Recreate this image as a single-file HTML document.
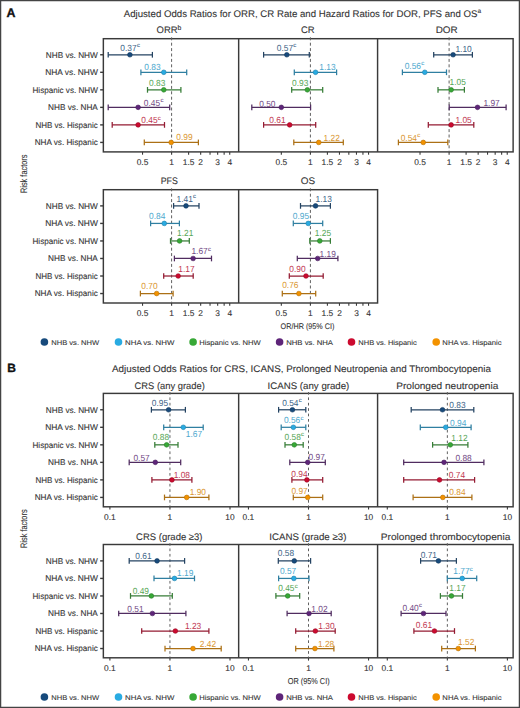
<!DOCTYPE html>
<html><head><meta charset="utf-8"><style>
html,body{margin:0;padding:0;background:#fff;}
svg{display:block;font-family:"Liberation Sans", sans-serif;text-rendering:geometricPrecision;}
</style></head><body>
<svg width="520" height="708" viewBox="0 0 520 708">
<rect width="520" height="708" fill="#fff"/>
<text x="6.60" y="16.90" font-size="12.4" fill="#111" stroke="#111" stroke-width="0.35" font-weight="bold">A</text>
<text x="123.72" y="16.50" font-size="9.6" fill="#333" stroke="#333" stroke-width="0.1" textLength="353.66" lengthAdjust="spacingAndGlyphs">Adjusted Odds Ratios for ORR, CR Rate and Hazard Ratios for DOR, PFS and OS</text>
<text x="477.40" y="12.80" font-size="6.5" fill="#333" stroke="#333" stroke-width="0.1">a</text>
<text x="7.30" y="371.80" font-size="12.0" fill="#111" stroke="#111" stroke-width="0.35" font-weight="bold">B</text>
<text x="112.02" y="371.50" font-size="9.6" fill="#333" stroke="#333" stroke-width="0.1" textLength="378.96" lengthAdjust="spacingAndGlyphs">Adjusted Odds Ratios for CRS, ICANS, Prolonged Neutropenia and Thrombocytopenia</text>
<text x="156.62" y="33.30" font-size="9.5" fill="#333" stroke="#333" stroke-width="0.1" textLength="20.95" lengthAdjust="spacingAndGlyphs">ORR</text>
<text x="177.60" y="29.60" font-size="6.8" fill="#333" stroke="#333" stroke-width="0.1">b</text>
<text x="301.02" y="33.30" font-size="9.5" fill="#333" stroke="#333" stroke-width="0.1" textLength="13.65" lengthAdjust="spacingAndGlyphs">CR</text>
<text x="435.72" y="33.30" font-size="9.5" fill="#333" stroke="#333" stroke-width="0.1" textLength="21.95" lengthAdjust="spacingAndGlyphs">DOR</text>
<text x="160.72" y="184.00" font-size="9.5" fill="#333" stroke="#333" stroke-width="0.1" textLength="17.15" lengthAdjust="spacingAndGlyphs">PFS</text>
<text x="300.72" y="184.00" font-size="9.5" fill="#333" stroke="#333" stroke-width="0.1" textLength="14.35" lengthAdjust="spacingAndGlyphs">OS</text>
<text x="134.53" y="388.50" font-size="9.5" fill="#333" stroke="#333" stroke-width="0.1" textLength="70.25" lengthAdjust="spacingAndGlyphs">CRS (any grade)</text>
<text x="267.62" y="388.50" font-size="9.5" fill="#333" stroke="#333" stroke-width="0.1" textLength="81.75" lengthAdjust="spacingAndGlyphs">ICANS (any grade)</text>
<text x="396.22" y="388.50" font-size="9.5" fill="#333" stroke="#333" stroke-width="0.1" textLength="102.05" lengthAdjust="spacingAndGlyphs">Prolonged neutropenia</text>
<text x="136.12" y="539.50" font-size="9.5" fill="#333" stroke="#333" stroke-width="0.1" textLength="66.35" lengthAdjust="spacingAndGlyphs">CRS (grade ≥3)</text>
<text x="269.22" y="539.50" font-size="9.5" fill="#333" stroke="#333" stroke-width="0.1" textLength="77.15" lengthAdjust="spacingAndGlyphs">ICANS (grade ≥3)</text>
<text x="380.82" y="539.50" font-size="9.5" fill="#333" stroke="#333" stroke-width="0.1" textLength="129.55" lengthAdjust="spacingAndGlyphs">Prolonged thrombocytopenia</text>
<text transform="translate(27.4,173.8) rotate(-90)" text-anchor="middle" font-size="9.4" fill="#333" stroke="#333" stroke-width="0.1" textLength="38.6" lengthAdjust="spacingAndGlyphs">Risk factors</text>
<text transform="translate(27.4,528.7) rotate(-90)" text-anchor="middle" font-size="9.4" fill="#333" stroke="#333" stroke-width="0.1" textLength="38.6" lengthAdjust="spacingAndGlyphs">Risk factors</text>
<text x="280.59" y="328.90" font-size="8.2" fill="#333" stroke="#333" stroke-width="0.1" textLength="53.82" lengthAdjust="spacingAndGlyphs">OR/HR (95% CI)</text>
<text x="287.77" y="684.00" font-size="8.6" fill="#333" stroke="#333" stroke-width="0.1" textLength="41.86" lengthAdjust="spacingAndGlyphs">OR (95% CI)</text>
<rect x="103.35" y="38.7" width="409.77" height="113.20" fill="none" stroke="#3a3a3a" stroke-width="1.45"/>
<line x1="238.66" y1="38.7" x2="238.66" y2="151.9" stroke="#3a3a3a" stroke-width="1.45"/>
<line x1="377.58" y1="38.7" x2="377.58" y2="151.9" stroke="#3a3a3a" stroke-width="1.45"/>
<line x1="100.15" y1="54.77" x2="103.35" y2="54.77" stroke="#3a3a3a" stroke-width="1.4"/>
<text x="97.81" y="57.57" font-size="8.2" fill="#333" stroke="#333" stroke-width="0.1" text-anchor="end" textLength="52.02" lengthAdjust="spacingAndGlyphs">NHB vs. NHW</text>
<line x1="100.15" y1="72.30" x2="103.35" y2="72.30" stroke="#3a3a3a" stroke-width="1.4"/>
<text x="97.81" y="75.10" font-size="8.2" fill="#333" stroke="#333" stroke-width="0.1" text-anchor="end" textLength="52.62" lengthAdjust="spacingAndGlyphs">NHA vs. NHW</text>
<line x1="100.15" y1="89.83" x2="103.35" y2="89.83" stroke="#3a3a3a" stroke-width="1.4"/>
<text x="97.81" y="92.63" font-size="8.2" fill="#333" stroke="#333" stroke-width="0.1" text-anchor="end" textLength="65.32" lengthAdjust="spacingAndGlyphs">Hispanic vs. NHW</text>
<line x1="100.15" y1="107.36" x2="103.35" y2="107.36" stroke="#3a3a3a" stroke-width="1.4"/>
<text x="97.81" y="110.16" font-size="8.2" fill="#333" stroke="#333" stroke-width="0.1" text-anchor="end" textLength="49.72" lengthAdjust="spacingAndGlyphs">NHB vs. NHA</text>
<line x1="100.15" y1="124.89" x2="103.35" y2="124.89" stroke="#3a3a3a" stroke-width="1.4"/>
<text x="97.81" y="127.69" font-size="8.2" fill="#333" stroke="#333" stroke-width="0.1" text-anchor="end" textLength="62.42" lengthAdjust="spacingAndGlyphs">NHB vs. Hispanic</text>
<line x1="100.15" y1="142.42" x2="103.35" y2="142.42" stroke="#3a3a3a" stroke-width="1.4"/>
<text x="97.81" y="145.22" font-size="8.2" fill="#333" stroke="#333" stroke-width="0.1" text-anchor="end" textLength="63.12" lengthAdjust="spacingAndGlyphs">NHA vs. Hispanic</text>
<rect x="103.35" y="189.7" width="274.23" height="113.30" fill="none" stroke="#3a3a3a" stroke-width="1.45"/>
<line x1="238.66" y1="189.7" x2="238.66" y2="303.0" stroke="#3a3a3a" stroke-width="1.45"/>
<line x1="100.15" y1="205.89" x2="103.35" y2="205.89" stroke="#3a3a3a" stroke-width="1.4"/>
<text x="97.81" y="208.69" font-size="8.2" fill="#333" stroke="#333" stroke-width="0.1" text-anchor="end" textLength="52.02" lengthAdjust="spacingAndGlyphs">NHB vs. NHW</text>
<line x1="100.15" y1="223.42" x2="103.35" y2="223.42" stroke="#3a3a3a" stroke-width="1.4"/>
<text x="97.81" y="226.22" font-size="8.2" fill="#333" stroke="#333" stroke-width="0.1" text-anchor="end" textLength="52.62" lengthAdjust="spacingAndGlyphs">NHA vs. NHW</text>
<line x1="100.15" y1="240.95" x2="103.35" y2="240.95" stroke="#3a3a3a" stroke-width="1.4"/>
<text x="97.81" y="243.75" font-size="8.2" fill="#333" stroke="#333" stroke-width="0.1" text-anchor="end" textLength="65.32" lengthAdjust="spacingAndGlyphs">Hispanic vs. NHW</text>
<line x1="100.15" y1="258.48" x2="103.35" y2="258.48" stroke="#3a3a3a" stroke-width="1.4"/>
<text x="97.81" y="261.28" font-size="8.2" fill="#333" stroke="#333" stroke-width="0.1" text-anchor="end" textLength="49.72" lengthAdjust="spacingAndGlyphs">NHB vs. NHA</text>
<line x1="100.15" y1="276.01" x2="103.35" y2="276.01" stroke="#3a3a3a" stroke-width="1.4"/>
<text x="97.81" y="278.81" font-size="8.2" fill="#333" stroke="#333" stroke-width="0.1" text-anchor="end" textLength="62.42" lengthAdjust="spacingAndGlyphs">NHB vs. Hispanic</text>
<line x1="100.15" y1="293.54" x2="103.35" y2="293.54" stroke="#3a3a3a" stroke-width="1.4"/>
<text x="97.81" y="296.34" font-size="8.2" fill="#333" stroke="#333" stroke-width="0.1" text-anchor="end" textLength="63.12" lengthAdjust="spacingAndGlyphs">NHA vs. Hispanic</text>
<rect x="103.35" y="393.4" width="409.77" height="113.40" fill="none" stroke="#3a3a3a" stroke-width="1.45"/>
<line x1="238.66" y1="393.4" x2="238.66" y2="506.8" stroke="#3a3a3a" stroke-width="1.45"/>
<line x1="377.58" y1="393.4" x2="377.58" y2="506.8" stroke="#3a3a3a" stroke-width="1.45"/>
<line x1="100.15" y1="409.77" x2="103.35" y2="409.77" stroke="#3a3a3a" stroke-width="1.4"/>
<text x="97.81" y="412.57" font-size="8.2" fill="#333" stroke="#333" stroke-width="0.1" text-anchor="end" textLength="52.02" lengthAdjust="spacingAndGlyphs">NHB vs. NHW</text>
<line x1="100.15" y1="427.30" x2="103.35" y2="427.30" stroke="#3a3a3a" stroke-width="1.4"/>
<text x="97.81" y="430.10" font-size="8.2" fill="#333" stroke="#333" stroke-width="0.1" text-anchor="end" textLength="52.62" lengthAdjust="spacingAndGlyphs">NHA vs. NHW</text>
<line x1="100.15" y1="444.83" x2="103.35" y2="444.83" stroke="#3a3a3a" stroke-width="1.4"/>
<text x="97.81" y="447.63" font-size="8.2" fill="#333" stroke="#333" stroke-width="0.1" text-anchor="end" textLength="65.32" lengthAdjust="spacingAndGlyphs">Hispanic vs. NHW</text>
<line x1="100.15" y1="462.36" x2="103.35" y2="462.36" stroke="#3a3a3a" stroke-width="1.4"/>
<text x="97.81" y="465.16" font-size="8.2" fill="#333" stroke="#333" stroke-width="0.1" text-anchor="end" textLength="49.72" lengthAdjust="spacingAndGlyphs">NHB vs. NHA</text>
<line x1="100.15" y1="479.89" x2="103.35" y2="479.89" stroke="#3a3a3a" stroke-width="1.4"/>
<text x="97.81" y="482.69" font-size="8.2" fill="#333" stroke="#333" stroke-width="0.1" text-anchor="end" textLength="62.42" lengthAdjust="spacingAndGlyphs">NHB vs. Hispanic</text>
<line x1="100.15" y1="497.42" x2="103.35" y2="497.42" stroke="#3a3a3a" stroke-width="1.4"/>
<text x="97.81" y="500.22" font-size="8.2" fill="#333" stroke="#333" stroke-width="0.1" text-anchor="end" textLength="63.12" lengthAdjust="spacingAndGlyphs">NHA vs. Hispanic</text>
<rect x="103.35" y="544.5" width="409.77" height="113.30" fill="none" stroke="#3a3a3a" stroke-width="1.45"/>
<line x1="238.66" y1="544.5" x2="238.66" y2="657.8" stroke="#3a3a3a" stroke-width="1.45"/>
<line x1="377.58" y1="544.5" x2="377.58" y2="657.8" stroke="#3a3a3a" stroke-width="1.45"/>
<line x1="100.15" y1="560.89" x2="103.35" y2="560.89" stroke="#3a3a3a" stroke-width="1.4"/>
<text x="97.81" y="563.69" font-size="8.2" fill="#333" stroke="#333" stroke-width="0.1" text-anchor="end" textLength="52.02" lengthAdjust="spacingAndGlyphs">NHB vs. NHW</text>
<line x1="100.15" y1="578.42" x2="103.35" y2="578.42" stroke="#3a3a3a" stroke-width="1.4"/>
<text x="97.81" y="581.22" font-size="8.2" fill="#333" stroke="#333" stroke-width="0.1" text-anchor="end" textLength="52.62" lengthAdjust="spacingAndGlyphs">NHA vs. NHW</text>
<line x1="100.15" y1="595.95" x2="103.35" y2="595.95" stroke="#3a3a3a" stroke-width="1.4"/>
<text x="97.81" y="598.75" font-size="8.2" fill="#333" stroke="#333" stroke-width="0.1" text-anchor="end" textLength="65.32" lengthAdjust="spacingAndGlyphs">Hispanic vs. NHW</text>
<line x1="100.15" y1="613.48" x2="103.35" y2="613.48" stroke="#3a3a3a" stroke-width="1.4"/>
<text x="97.81" y="616.28" font-size="8.2" fill="#333" stroke="#333" stroke-width="0.1" text-anchor="end" textLength="49.72" lengthAdjust="spacingAndGlyphs">NHB vs. NHA</text>
<line x1="100.15" y1="631.01" x2="103.35" y2="631.01" stroke="#3a3a3a" stroke-width="1.4"/>
<text x="97.81" y="633.81" font-size="8.2" fill="#333" stroke="#333" stroke-width="0.1" text-anchor="end" textLength="62.42" lengthAdjust="spacingAndGlyphs">NHB vs. Hispanic</text>
<line x1="100.15" y1="648.54" x2="103.35" y2="648.54" stroke="#3a3a3a" stroke-width="1.4"/>
<text x="97.81" y="651.34" font-size="8.2" fill="#333" stroke="#333" stroke-width="0.1" text-anchor="end" textLength="63.12" lengthAdjust="spacingAndGlyphs">NHA vs. Hispanic</text>
<line x1="142.53" y1="151.9" x2="142.53" y2="154.70" stroke="#3a3a3a" stroke-width="1.1"/>
<line x1="171.60" y1="151.9" x2="171.60" y2="154.70" stroke="#3a3a3a" stroke-width="1.1"/>
<line x1="188.60" y1="151.9" x2="188.60" y2="154.70" stroke="#3a3a3a" stroke-width="1.1"/>
<line x1="200.67" y1="151.9" x2="200.67" y2="154.70" stroke="#3a3a3a" stroke-width="1.1"/>
<line x1="210.03" y1="151.9" x2="210.03" y2="154.70" stroke="#3a3a3a" stroke-width="1.1"/>
<line x1="217.67" y1="151.9" x2="217.67" y2="154.70" stroke="#3a3a3a" stroke-width="1.1"/>
<line x1="224.14" y1="151.9" x2="224.14" y2="154.70" stroke="#3a3a3a" stroke-width="1.1"/>
<line x1="229.74" y1="151.9" x2="229.74" y2="154.70" stroke="#3a3a3a" stroke-width="1.1"/>
<text x="142.53" y="165.10" font-size="8.4" fill="#333" stroke="#333" stroke-width="0.1" text-anchor="middle">0.5</text>
<text x="171.60" y="165.10" font-size="8.4" fill="#333" stroke="#333" stroke-width="0.1" text-anchor="middle">1</text>
<text x="188.60" y="165.10" font-size="8.4" fill="#333" stroke="#333" stroke-width="0.1" text-anchor="middle">1.5</text>
<text x="200.67" y="165.10" font-size="8.4" fill="#333" stroke="#333" stroke-width="0.1" text-anchor="middle">2</text>
<text x="217.67" y="165.10" font-size="8.4" fill="#333" stroke="#333" stroke-width="0.1" text-anchor="middle">3</text>
<text x="229.74" y="165.10" font-size="8.4" fill="#333" stroke="#333" stroke-width="0.1" text-anchor="middle">4</text>
<line x1="171.60" y1="37.30" x2="171.60" y2="151.90" stroke="#606060" stroke-width="1.0" stroke-dasharray="3 2.4"/>
<line x1="281.33" y1="151.9" x2="281.33" y2="154.70" stroke="#3a3a3a" stroke-width="1.1"/>
<line x1="310.40" y1="151.9" x2="310.40" y2="154.70" stroke="#3a3a3a" stroke-width="1.1"/>
<line x1="327.40" y1="151.9" x2="327.40" y2="154.70" stroke="#3a3a3a" stroke-width="1.1"/>
<line x1="339.47" y1="151.9" x2="339.47" y2="154.70" stroke="#3a3a3a" stroke-width="1.1"/>
<line x1="348.83" y1="151.9" x2="348.83" y2="154.70" stroke="#3a3a3a" stroke-width="1.1"/>
<line x1="356.47" y1="151.9" x2="356.47" y2="154.70" stroke="#3a3a3a" stroke-width="1.1"/>
<line x1="362.94" y1="151.9" x2="362.94" y2="154.70" stroke="#3a3a3a" stroke-width="1.1"/>
<line x1="368.54" y1="151.9" x2="368.54" y2="154.70" stroke="#3a3a3a" stroke-width="1.1"/>
<text x="281.33" y="165.10" font-size="8.4" fill="#333" stroke="#333" stroke-width="0.1" text-anchor="middle">0.5</text>
<text x="310.40" y="165.10" font-size="8.4" fill="#333" stroke="#333" stroke-width="0.1" text-anchor="middle">1</text>
<text x="327.40" y="165.10" font-size="8.4" fill="#333" stroke="#333" stroke-width="0.1" text-anchor="middle">1.5</text>
<text x="339.47" y="165.10" font-size="8.4" fill="#333" stroke="#333" stroke-width="0.1" text-anchor="middle">2</text>
<text x="356.47" y="165.10" font-size="8.4" fill="#333" stroke="#333" stroke-width="0.1" text-anchor="middle">3</text>
<text x="368.54" y="165.10" font-size="8.4" fill="#333" stroke="#333" stroke-width="0.1" text-anchor="middle">4</text>
<line x1="310.40" y1="37.30" x2="310.40" y2="151.90" stroke="#606060" stroke-width="1.0" stroke-dasharray="3 2.4"/>
<line x1="420.03" y1="151.9" x2="420.03" y2="154.70" stroke="#3a3a3a" stroke-width="1.1"/>
<line x1="449.10" y1="151.9" x2="449.10" y2="154.70" stroke="#3a3a3a" stroke-width="1.1"/>
<line x1="466.10" y1="151.9" x2="466.10" y2="154.70" stroke="#3a3a3a" stroke-width="1.1"/>
<line x1="478.17" y1="151.9" x2="478.17" y2="154.70" stroke="#3a3a3a" stroke-width="1.1"/>
<line x1="487.53" y1="151.9" x2="487.53" y2="154.70" stroke="#3a3a3a" stroke-width="1.1"/>
<line x1="495.17" y1="151.9" x2="495.17" y2="154.70" stroke="#3a3a3a" stroke-width="1.1"/>
<line x1="501.64" y1="151.9" x2="501.64" y2="154.70" stroke="#3a3a3a" stroke-width="1.1"/>
<line x1="507.24" y1="151.9" x2="507.24" y2="154.70" stroke="#3a3a3a" stroke-width="1.1"/>
<text x="420.03" y="165.10" font-size="8.4" fill="#333" stroke="#333" stroke-width="0.1" text-anchor="middle">0.5</text>
<text x="449.10" y="165.10" font-size="8.4" fill="#333" stroke="#333" stroke-width="0.1" text-anchor="middle">1</text>
<text x="466.10" y="165.10" font-size="8.4" fill="#333" stroke="#333" stroke-width="0.1" text-anchor="middle">1.5</text>
<text x="478.17" y="165.10" font-size="8.4" fill="#333" stroke="#333" stroke-width="0.1" text-anchor="middle">2</text>
<text x="495.17" y="165.10" font-size="8.4" fill="#333" stroke="#333" stroke-width="0.1" text-anchor="middle">3</text>
<text x="507.24" y="165.10" font-size="8.4" fill="#333" stroke="#333" stroke-width="0.1" text-anchor="middle">4</text>
<line x1="449.10" y1="37.30" x2="449.10" y2="151.90" stroke="#606060" stroke-width="1.0" stroke-dasharray="3 2.4"/>
<line x1="142.53" y1="303.0" x2="142.53" y2="305.80" stroke="#3a3a3a" stroke-width="1.1"/>
<line x1="171.60" y1="303.0" x2="171.60" y2="305.80" stroke="#3a3a3a" stroke-width="1.1"/>
<line x1="188.60" y1="303.0" x2="188.60" y2="305.80" stroke="#3a3a3a" stroke-width="1.1"/>
<line x1="200.67" y1="303.0" x2="200.67" y2="305.80" stroke="#3a3a3a" stroke-width="1.1"/>
<line x1="210.03" y1="303.0" x2="210.03" y2="305.80" stroke="#3a3a3a" stroke-width="1.1"/>
<line x1="217.67" y1="303.0" x2="217.67" y2="305.80" stroke="#3a3a3a" stroke-width="1.1"/>
<line x1="224.14" y1="303.0" x2="224.14" y2="305.80" stroke="#3a3a3a" stroke-width="1.1"/>
<line x1="229.74" y1="303.0" x2="229.74" y2="305.80" stroke="#3a3a3a" stroke-width="1.1"/>
<text x="142.53" y="316.20" font-size="8.4" fill="#333" stroke="#333" stroke-width="0.1" text-anchor="middle">0.5</text>
<text x="171.60" y="316.20" font-size="8.4" fill="#333" stroke="#333" stroke-width="0.1" text-anchor="middle">1</text>
<text x="188.60" y="316.20" font-size="8.4" fill="#333" stroke="#333" stroke-width="0.1" text-anchor="middle">1.5</text>
<text x="200.67" y="316.20" font-size="8.4" fill="#333" stroke="#333" stroke-width="0.1" text-anchor="middle">2</text>
<text x="217.67" y="316.20" font-size="8.4" fill="#333" stroke="#333" stroke-width="0.1" text-anchor="middle">3</text>
<text x="229.74" y="316.20" font-size="8.4" fill="#333" stroke="#333" stroke-width="0.1" text-anchor="middle">4</text>
<line x1="171.60" y1="188.30" x2="171.60" y2="303.00" stroke="#606060" stroke-width="1.0" stroke-dasharray="3 2.4"/>
<line x1="281.33" y1="303.0" x2="281.33" y2="305.80" stroke="#3a3a3a" stroke-width="1.1"/>
<line x1="310.40" y1="303.0" x2="310.40" y2="305.80" stroke="#3a3a3a" stroke-width="1.1"/>
<line x1="327.40" y1="303.0" x2="327.40" y2="305.80" stroke="#3a3a3a" stroke-width="1.1"/>
<line x1="339.47" y1="303.0" x2="339.47" y2="305.80" stroke="#3a3a3a" stroke-width="1.1"/>
<line x1="348.83" y1="303.0" x2="348.83" y2="305.80" stroke="#3a3a3a" stroke-width="1.1"/>
<line x1="356.47" y1="303.0" x2="356.47" y2="305.80" stroke="#3a3a3a" stroke-width="1.1"/>
<line x1="362.94" y1="303.0" x2="362.94" y2="305.80" stroke="#3a3a3a" stroke-width="1.1"/>
<line x1="368.54" y1="303.0" x2="368.54" y2="305.80" stroke="#3a3a3a" stroke-width="1.1"/>
<text x="281.33" y="316.20" font-size="8.4" fill="#333" stroke="#333" stroke-width="0.1" text-anchor="middle">0.5</text>
<text x="310.40" y="316.20" font-size="8.4" fill="#333" stroke="#333" stroke-width="0.1" text-anchor="middle">1</text>
<text x="327.40" y="316.20" font-size="8.4" fill="#333" stroke="#333" stroke-width="0.1" text-anchor="middle">1.5</text>
<text x="339.47" y="316.20" font-size="8.4" fill="#333" stroke="#333" stroke-width="0.1" text-anchor="middle">2</text>
<text x="356.47" y="316.20" font-size="8.4" fill="#333" stroke="#333" stroke-width="0.1" text-anchor="middle">3</text>
<text x="368.54" y="316.20" font-size="8.4" fill="#333" stroke="#333" stroke-width="0.1" text-anchor="middle">4</text>
<line x1="310.40" y1="188.30" x2="310.40" y2="303.00" stroke="#606060" stroke-width="1.0" stroke-dasharray="3 2.4"/>
<line x1="109.90" y1="506.8" x2="109.90" y2="509.60" stroke="#3a3a3a" stroke-width="1.1"/>
<line x1="169.95" y1="506.8" x2="169.95" y2="509.60" stroke="#3a3a3a" stroke-width="1.1"/>
<line x1="230.00" y1="506.8" x2="230.00" y2="509.60" stroke="#3a3a3a" stroke-width="1.1"/>
<text x="109.90" y="520.00" font-size="8.4" fill="#333" stroke="#333" stroke-width="0.1" text-anchor="middle">0.1</text>
<text x="169.95" y="520.00" font-size="8.4" fill="#333" stroke="#333" stroke-width="0.1" text-anchor="middle">1</text>
<text x="230.00" y="520.00" font-size="8.4" fill="#333" stroke="#333" stroke-width="0.1" text-anchor="middle">10</text>
<line x1="169.95" y1="392.00" x2="169.95" y2="506.80" stroke="#606060" stroke-width="1.0" stroke-dasharray="2.7 2.7"/>
<line x1="248.45" y1="506.8" x2="248.45" y2="509.60" stroke="#3a3a3a" stroke-width="1.1"/>
<line x1="308.50" y1="506.8" x2="308.50" y2="509.60" stroke="#3a3a3a" stroke-width="1.1"/>
<line x1="368.55" y1="506.8" x2="368.55" y2="509.60" stroke="#3a3a3a" stroke-width="1.1"/>
<text x="248.45" y="520.00" font-size="8.4" fill="#333" stroke="#333" stroke-width="0.1" text-anchor="middle">0.1</text>
<text x="308.50" y="520.00" font-size="8.4" fill="#333" stroke="#333" stroke-width="0.1" text-anchor="middle">1</text>
<text x="368.55" y="520.00" font-size="8.4" fill="#333" stroke="#333" stroke-width="0.1" text-anchor="middle">10</text>
<line x1="308.50" y1="392.00" x2="308.50" y2="506.80" stroke="#606060" stroke-width="1.0" stroke-dasharray="2.7 2.7"/>
<line x1="387.30" y1="506.8" x2="387.30" y2="509.60" stroke="#3a3a3a" stroke-width="1.1"/>
<line x1="447.35" y1="506.8" x2="447.35" y2="509.60" stroke="#3a3a3a" stroke-width="1.1"/>
<line x1="507.40" y1="506.8" x2="507.40" y2="509.60" stroke="#3a3a3a" stroke-width="1.1"/>
<text x="387.30" y="520.00" font-size="8.4" fill="#333" stroke="#333" stroke-width="0.1" text-anchor="middle">0.1</text>
<text x="447.35" y="520.00" font-size="8.4" fill="#333" stroke="#333" stroke-width="0.1" text-anchor="middle">1</text>
<text x="507.40" y="520.00" font-size="8.4" fill="#333" stroke="#333" stroke-width="0.1" text-anchor="middle">10</text>
<line x1="447.35" y1="392.00" x2="447.35" y2="506.80" stroke="#606060" stroke-width="1.0" stroke-dasharray="2.7 2.7"/>
<line x1="109.90" y1="657.8" x2="109.90" y2="660.60" stroke="#3a3a3a" stroke-width="1.1"/>
<line x1="169.95" y1="657.8" x2="169.95" y2="660.60" stroke="#3a3a3a" stroke-width="1.1"/>
<line x1="230.00" y1="657.8" x2="230.00" y2="660.60" stroke="#3a3a3a" stroke-width="1.1"/>
<text x="109.90" y="671.00" font-size="8.4" fill="#333" stroke="#333" stroke-width="0.1" text-anchor="middle">0.1</text>
<text x="169.95" y="671.00" font-size="8.4" fill="#333" stroke="#333" stroke-width="0.1" text-anchor="middle">1</text>
<text x="230.00" y="671.00" font-size="8.4" fill="#333" stroke="#333" stroke-width="0.1" text-anchor="middle">10</text>
<line x1="169.95" y1="543.10" x2="169.95" y2="657.80" stroke="#606060" stroke-width="1.0" stroke-dasharray="2.7 2.7"/>
<line x1="248.45" y1="657.8" x2="248.45" y2="660.60" stroke="#3a3a3a" stroke-width="1.1"/>
<line x1="308.50" y1="657.8" x2="308.50" y2="660.60" stroke="#3a3a3a" stroke-width="1.1"/>
<line x1="368.55" y1="657.8" x2="368.55" y2="660.60" stroke="#3a3a3a" stroke-width="1.1"/>
<text x="248.45" y="671.00" font-size="8.4" fill="#333" stroke="#333" stroke-width="0.1" text-anchor="middle">0.1</text>
<text x="308.50" y="671.00" font-size="8.4" fill="#333" stroke="#333" stroke-width="0.1" text-anchor="middle">1</text>
<text x="368.55" y="671.00" font-size="8.4" fill="#333" stroke="#333" stroke-width="0.1" text-anchor="middle">10</text>
<line x1="308.50" y1="543.10" x2="308.50" y2="657.80" stroke="#606060" stroke-width="1.0" stroke-dasharray="2.7 2.7"/>
<line x1="387.30" y1="657.8" x2="387.30" y2="660.60" stroke="#3a3a3a" stroke-width="1.1"/>
<line x1="447.35" y1="657.8" x2="447.35" y2="660.60" stroke="#3a3a3a" stroke-width="1.1"/>
<line x1="507.40" y1="657.8" x2="507.40" y2="660.60" stroke="#3a3a3a" stroke-width="1.1"/>
<text x="387.30" y="671.00" font-size="8.4" fill="#333" stroke="#333" stroke-width="0.1" text-anchor="middle">0.1</text>
<text x="447.35" y="671.00" font-size="8.4" fill="#333" stroke="#333" stroke-width="0.1" text-anchor="middle">1</text>
<text x="507.40" y="671.00" font-size="8.4" fill="#333" stroke="#333" stroke-width="0.1" text-anchor="middle">10</text>
<line x1="447.35" y1="543.10" x2="447.35" y2="657.80" stroke="#606060" stroke-width="1.0" stroke-dasharray="2.7 2.7"/>
<g stroke="#244362" stroke-width="1.25"><line x1="108.2" y1="54.77" x2="152.4" y2="54.77"/><line x1="108.2" y1="51.92" x2="108.2" y2="57.62"/><line x1="152.4" y1="51.92" x2="152.4" y2="57.62"/></g>
<circle cx="129.90" cy="54.77" r="2.35" fill="#174a7c" stroke="#11385d" stroke-width="0.6"/>
<text x="120.36" y="50.50" font-size="8.9" fill="#406487" textLength="16.29" lengthAdjust="spacingAndGlyphs">0.37</text>
<text x="136.90" y="47.10" font-size="6" fill="#406487" stroke="#406487" stroke-width="0.1">c</text>
<g stroke="#2f7fa1" stroke-width="1.25"><line x1="140.9" y1="72.30" x2="186.7" y2="72.30"/><line x1="140.9" y1="69.45" x2="140.9" y2="75.15"/><line x1="186.7" y1="69.45" x2="186.7" y2="75.15"/></g>
<circle cx="163.79" cy="72.30" r="2.35" fill="#29abe2" stroke="#1f80aa" stroke-width="0.6"/>
<text x="144.36" y="70.20" font-size="8.9" fill="#4da8ce" textLength="16.29" lengthAdjust="spacingAndGlyphs">0.83</text>
<g stroke="#377d37" stroke-width="1.25"><line x1="147.5" y1="89.83" x2="180.9" y2="89.83"/><line x1="147.5" y1="86.98" x2="147.5" y2="92.68"/><line x1="180.9" y1="86.98" x2="180.9" y2="92.68"/></g>
<circle cx="163.79" cy="89.83" r="2.35" fill="#37a836" stroke="#297e28" stroke-width="0.6"/>
<text x="149.06" y="85.60" font-size="8.9" fill="#56a656" textLength="16.29" lengthAdjust="spacingAndGlyphs">0.83</text>
<g stroke="#502c60" stroke-width="1.25"><line x1="108.2" y1="107.36" x2="169.7" y2="107.36"/><line x1="108.2" y1="104.51" x2="108.2" y2="110.21"/><line x1="169.7" y1="104.51" x2="169.7" y2="110.21"/></g>
<circle cx="138.11" cy="107.36" r="2.35" fill="#5e2579" stroke="#461c5b" stroke-width="0.6"/>
<text x="143.86" y="105.60" font-size="8.9" fill="#724a85" textLength="16.29" lengthAdjust="spacingAndGlyphs">0.45</text>
<text x="160.40" y="102.20" font-size="6" fill="#724a85" stroke="#724a85" stroke-width="0.1">c</text>
<g stroke="#941b32" stroke-width="1.25"><line x1="112.2" y1="124.89" x2="164.5" y2="124.89"/><line x1="112.2" y1="122.04" x2="112.2" y2="127.74"/><line x1="164.5" y1="122.04" x2="164.5" y2="127.74"/></g>
<circle cx="138.11" cy="124.89" r="2.35" fill="#cc0a2f" stroke="#990823" stroke-width="0.6"/>
<text x="141.25" y="122.90" font-size="8.9" fill="#bf3751" textLength="16.29" lengthAdjust="spacingAndGlyphs">0.45</text>
<text x="157.80" y="119.50" font-size="6" fill="#bf3751" stroke="#bf3751" stroke-width="0.1">c</text>
<g stroke="#ac7015" stroke-width="1.25"><line x1="144.3" y1="142.42" x2="198.4" y2="142.42"/><line x1="144.3" y1="139.57" x2="144.3" y2="145.27"/><line x1="198.4" y1="139.57" x2="198.4" y2="145.27"/></g>
<circle cx="171.18" cy="142.42" r="2.35" fill="#f39200" stroke="#b66e00" stroke-width="0.6"/>
<text x="176.25" y="140.40" font-size="8.9" fill="#da9630" textLength="16.29" lengthAdjust="spacingAndGlyphs">0.99</text>
<g stroke="#244362" stroke-width="1.25"><line x1="263.6" y1="54.77" x2="309.3" y2="54.77"/><line x1="263.6" y1="51.92" x2="263.6" y2="57.62"/><line x1="309.3" y1="51.92" x2="309.3" y2="57.62"/></g>
<circle cx="286.83" cy="54.77" r="2.35" fill="#174a7c" stroke="#11385d" stroke-width="0.6"/>
<text x="276.75" y="50.60" font-size="8.9" fill="#406487" textLength="16.29" lengthAdjust="spacingAndGlyphs">0.57</text>
<text x="293.30" y="47.20" font-size="6" fill="#406487" stroke="#406487" stroke-width="0.1">c</text>
<g stroke="#2f7fa1" stroke-width="1.25"><line x1="294.3" y1="72.30" x2="336.6" y2="72.30"/><line x1="294.3" y1="69.45" x2="294.3" y2="75.15"/><line x1="336.6" y1="69.45" x2="336.6" y2="75.15"/></g>
<circle cx="315.53" cy="72.30" r="2.35" fill="#29abe2" stroke="#1f80aa" stroke-width="0.6"/>
<text x="319.25" y="70.10" font-size="8.9" fill="#4da8ce" textLength="16.29" lengthAdjust="spacingAndGlyphs">1.13</text>
<g stroke="#377d37" stroke-width="1.25"><line x1="291.7" y1="89.83" x2="322.7" y2="89.83"/><line x1="291.7" y1="86.98" x2="291.7" y2="92.68"/><line x1="322.7" y1="86.98" x2="322.7" y2="92.68"/></g>
<circle cx="307.36" cy="89.83" r="2.35" fill="#37a836" stroke="#297e28" stroke-width="0.6"/>
<text x="292.06" y="86.10" font-size="8.9" fill="#56a656" textLength="16.29" lengthAdjust="spacingAndGlyphs">0.93</text>
<g stroke="#502c60" stroke-width="1.25"><line x1="251.8" y1="107.36" x2="310.6" y2="107.36"/><line x1="251.8" y1="104.51" x2="251.8" y2="110.21"/><line x1="310.6" y1="104.51" x2="310.6" y2="110.21"/></g>
<circle cx="281.33" cy="107.36" r="2.35" fill="#5e2579" stroke="#461c5b" stroke-width="0.6"/>
<text x="259.16" y="106.70" font-size="8.9" fill="#724a85" textLength="16.29" lengthAdjust="spacingAndGlyphs">0.50</text>
<g stroke="#941b32" stroke-width="1.25"><line x1="263.6" y1="124.89" x2="315.7" y2="124.89"/><line x1="263.6" y1="122.04" x2="263.6" y2="127.74"/><line x1="315.7" y1="122.04" x2="315.7" y2="127.74"/></g>
<circle cx="289.67" cy="124.89" r="2.35" fill="#cc0a2f" stroke="#990823" stroke-width="0.6"/>
<text x="269.25" y="123.30" font-size="8.9" fill="#bf3751" textLength="16.29" lengthAdjust="spacingAndGlyphs">0.61</text>
<g stroke="#ac7015" stroke-width="1.25"><line x1="293.8" y1="142.42" x2="343.3" y2="142.42"/><line x1="293.8" y1="139.57" x2="293.8" y2="145.27"/><line x1="343.3" y1="139.57" x2="343.3" y2="145.27"/></g>
<circle cx="318.74" cy="142.42" r="2.35" fill="#f39200" stroke="#b66e00" stroke-width="0.6"/>
<text x="323.56" y="140.60" font-size="8.9" fill="#da9630" textLength="16.29" lengthAdjust="spacingAndGlyphs">1.22</text>
<g stroke="#244362" stroke-width="1.25"><line x1="433.7" y1="54.77" x2="472.4" y2="54.77"/><line x1="433.7" y1="51.92" x2="433.7" y2="57.62"/><line x1="472.4" y1="51.92" x2="472.4" y2="57.62"/></g>
<circle cx="453.10" cy="54.77" r="2.35" fill="#174a7c" stroke="#11385d" stroke-width="0.6"/>
<text x="455.45" y="51.90" font-size="8.9" fill="#406487" textLength="16.29" lengthAdjust="spacingAndGlyphs">1.10</text>
<g stroke="#2f7fa1" stroke-width="1.25"><line x1="402.4" y1="72.30" x2="446.5" y2="72.30"/><line x1="402.4" y1="69.45" x2="402.4" y2="75.15"/><line x1="446.5" y1="69.45" x2="446.5" y2="75.15"/></g>
<circle cx="424.78" cy="72.30" r="2.35" fill="#29abe2" stroke="#1f80aa" stroke-width="0.6"/>
<text x="404.66" y="68.70" font-size="8.9" fill="#4da8ce" textLength="16.29" lengthAdjust="spacingAndGlyphs">0.56</text>
<text x="421.20" y="65.30" font-size="6" fill="#4da8ce" stroke="#4da8ce" stroke-width="0.1">c</text>
<g stroke="#377d37" stroke-width="1.25"><line x1="438" y1="89.83" x2="464.4" y2="89.83"/><line x1="438" y1="86.98" x2="438" y2="92.68"/><line x1="464.4" y1="86.98" x2="464.4" y2="92.68"/></g>
<circle cx="451.15" cy="89.83" r="2.35" fill="#37a836" stroke="#297e28" stroke-width="0.6"/>
<text x="449.56" y="85.30" font-size="8.9" fill="#56a656" textLength="16.29" lengthAdjust="spacingAndGlyphs">1.05</text>
<g stroke="#502c60" stroke-width="1.25"><line x1="449.2" y1="107.36" x2="506.1" y2="107.36"/><line x1="449.2" y1="104.51" x2="449.2" y2="110.21"/><line x1="506.1" y1="104.51" x2="506.1" y2="110.21"/></g>
<circle cx="477.54" cy="107.36" r="2.35" fill="#5e2579" stroke="#461c5b" stroke-width="0.6"/>
<text x="483.45" y="106.20" font-size="8.9" fill="#724a85" textLength="16.29" lengthAdjust="spacingAndGlyphs">1.97</text>
<g stroke="#941b32" stroke-width="1.25"><line x1="428.3" y1="124.89" x2="473.8" y2="124.89"/><line x1="428.3" y1="122.04" x2="428.3" y2="127.74"/><line x1="473.8" y1="122.04" x2="473.8" y2="127.74"/></g>
<circle cx="451.15" cy="124.89" r="2.35" fill="#cc0a2f" stroke="#990823" stroke-width="0.6"/>
<text x="455.45" y="123.30" font-size="8.9" fill="#bf3751" textLength="16.29" lengthAdjust="spacingAndGlyphs">1.05</text>
<g stroke="#ac7015" stroke-width="1.25"><line x1="398.4" y1="142.42" x2="447.8" y2="142.42"/><line x1="398.4" y1="139.57" x2="398.4" y2="145.27"/><line x1="447.8" y1="139.57" x2="447.8" y2="145.27"/></g>
<circle cx="423.26" cy="142.42" r="2.35" fill="#f39200" stroke="#b66e00" stroke-width="0.6"/>
<text x="400.66" y="140.60" font-size="8.9" fill="#da9630" textLength="16.29" lengthAdjust="spacingAndGlyphs">0.54</text>
<text x="417.20" y="137.20" font-size="6" fill="#da9630" stroke="#da9630" stroke-width="0.1">c</text>
<g stroke="#244362" stroke-width="1.25"><line x1="173.6" y1="205.89" x2="199" y2="205.89"/><line x1="173.6" y1="203.04" x2="173.6" y2="208.74"/><line x1="199" y1="203.04" x2="199" y2="208.74"/></g>
<circle cx="186.01" cy="205.89" r="2.35" fill="#174a7c" stroke="#11385d" stroke-width="0.6"/>
<text x="176.56" y="201.60" font-size="8.9" fill="#406487" textLength="16.29" lengthAdjust="spacingAndGlyphs">1.41</text>
<text x="193.10" y="198.20" font-size="6" fill="#406487" stroke="#406487" stroke-width="0.1">c</text>
<g stroke="#2f7fa1" stroke-width="1.25"><line x1="150.6" y1="223.42" x2="179.4" y2="223.42"/><line x1="150.6" y1="220.57" x2="150.6" y2="226.27"/><line x1="179.4" y1="220.57" x2="179.4" y2="226.27"/></g>
<circle cx="164.29" cy="223.42" r="2.35" fill="#29abe2" stroke="#1f80aa" stroke-width="0.6"/>
<text x="149.06" y="219.10" font-size="8.9" fill="#4da8ce" textLength="16.29" lengthAdjust="spacingAndGlyphs">0.84</text>
<g stroke="#377d37" stroke-width="1.25"><line x1="170.5" y1="240.95" x2="189.3" y2="240.95"/><line x1="170.5" y1="238.10" x2="170.5" y2="243.80"/><line x1="189.3" y1="238.10" x2="189.3" y2="243.80"/></g>
<circle cx="179.59" cy="240.95" r="2.35" fill="#37a836" stroke="#297e28" stroke-width="0.6"/>
<text x="177.06" y="235.50" font-size="8.9" fill="#56a656" textLength="16.29" lengthAdjust="spacingAndGlyphs">1.21</text>
<g stroke="#502c60" stroke-width="1.25"><line x1="174.4" y1="258.48" x2="211.5" y2="258.48"/><line x1="174.4" y1="255.63" x2="174.4" y2="261.33"/><line x1="211.5" y1="255.63" x2="211.5" y2="261.33"/></g>
<circle cx="193.11" cy="258.48" r="2.35" fill="#5e2579" stroke="#461c5b" stroke-width="0.6"/>
<text x="191.46" y="254.20" font-size="8.9" fill="#724a85" textLength="16.29" lengthAdjust="spacingAndGlyphs">1.67</text>
<text x="208.00" y="250.80" font-size="6" fill="#724a85" stroke="#724a85" stroke-width="0.1">c</text>
<g stroke="#941b32" stroke-width="1.25"><line x1="163.7" y1="276.01" x2="193.2" y2="276.01"/><line x1="163.7" y1="273.16" x2="163.7" y2="278.86"/><line x1="193.2" y1="273.16" x2="193.2" y2="278.86"/></g>
<circle cx="178.18" cy="276.01" r="2.35" fill="#cc0a2f" stroke="#990823" stroke-width="0.6"/>
<text x="178.36" y="271.80" font-size="8.9" fill="#bf3751" textLength="16.29" lengthAdjust="spacingAndGlyphs">1.17</text>
<g stroke="#ac7015" stroke-width="1.25"><line x1="140.4" y1="293.54" x2="173.1" y2="293.54"/><line x1="140.4" y1="290.69" x2="140.4" y2="296.39"/><line x1="173.1" y1="290.69" x2="173.1" y2="296.39"/></g>
<circle cx="156.64" cy="293.54" r="2.35" fill="#f39200" stroke="#b66e00" stroke-width="0.6"/>
<text x="141.25" y="288.80" font-size="8.9" fill="#da9630" textLength="16.29" lengthAdjust="spacingAndGlyphs">0.70</text>
<g stroke="#244362" stroke-width="1.25"><line x1="300.5" y1="205.89" x2="330.4" y2="205.89"/><line x1="300.5" y1="203.04" x2="300.5" y2="208.74"/><line x1="330.4" y1="203.04" x2="330.4" y2="208.74"/></g>
<circle cx="315.53" cy="205.89" r="2.35" fill="#174a7c" stroke="#11385d" stroke-width="0.6"/>
<text x="315.56" y="201.60" font-size="8.9" fill="#406487" textLength="16.29" lengthAdjust="spacingAndGlyphs">1.13</text>
<g stroke="#2f7fa1" stroke-width="1.25"><line x1="293.3" y1="223.42" x2="322.7" y2="223.42"/><line x1="293.3" y1="220.57" x2="293.3" y2="226.27"/><line x1="322.7" y1="220.57" x2="322.7" y2="226.27"/></g>
<circle cx="308.25" cy="223.42" r="2.35" fill="#29abe2" stroke="#1f80aa" stroke-width="0.6"/>
<text x="292.86" y="219.20" font-size="8.9" fill="#4da8ce" textLength="16.29" lengthAdjust="spacingAndGlyphs">0.95</text>
<g stroke="#377d37" stroke-width="1.25"><line x1="309.8" y1="240.95" x2="330.4" y2="240.95"/><line x1="309.8" y1="238.10" x2="309.8" y2="243.80"/><line x1="330.4" y1="238.10" x2="330.4" y2="243.80"/></g>
<circle cx="319.76" cy="240.95" r="2.35" fill="#37a836" stroke="#297e28" stroke-width="0.6"/>
<text x="314.75" y="236.30" font-size="8.9" fill="#56a656" textLength="16.29" lengthAdjust="spacingAndGlyphs">1.25</text>
<g stroke="#502c60" stroke-width="1.25"><line x1="297.3" y1="258.48" x2="337.9" y2="258.48"/><line x1="297.3" y1="255.63" x2="297.3" y2="261.33"/><line x1="337.9" y1="255.63" x2="337.9" y2="261.33"/></g>
<circle cx="317.70" cy="258.48" r="2.35" fill="#5e2579" stroke="#461c5b" stroke-width="0.6"/>
<text x="319.56" y="257.20" font-size="8.9" fill="#724a85" textLength="16.29" lengthAdjust="spacingAndGlyphs">1.19</text>
<g stroke="#941b32" stroke-width="1.25"><line x1="289.3" y1="276.01" x2="323.2" y2="276.01"/><line x1="289.3" y1="273.16" x2="289.3" y2="278.86"/><line x1="323.2" y1="273.16" x2="323.2" y2="278.86"/></g>
<circle cx="305.98" cy="276.01" r="2.35" fill="#cc0a2f" stroke="#990823" stroke-width="0.6"/>
<text x="289.36" y="271.90" font-size="8.9" fill="#bf3751" textLength="16.29" lengthAdjust="spacingAndGlyphs">0.90</text>
<g stroke="#ac7015" stroke-width="1.25"><line x1="282.3" y1="293.54" x2="315.7" y2="293.54"/><line x1="282.3" y1="290.69" x2="282.3" y2="296.39"/><line x1="315.7" y1="290.69" x2="315.7" y2="296.39"/></g>
<circle cx="298.89" cy="293.54" r="2.35" fill="#f39200" stroke="#b66e00" stroke-width="0.6"/>
<text x="282.16" y="288.40" font-size="8.9" fill="#da9630" textLength="16.29" lengthAdjust="spacingAndGlyphs">0.76</text>
<g stroke="#244362" stroke-width="1.25"><line x1="151.4" y1="409.77" x2="185.4" y2="409.77"/><line x1="151.4" y1="406.92" x2="151.4" y2="412.62"/><line x1="185.4" y1="406.92" x2="185.4" y2="412.62"/></g>
<circle cx="168.61" cy="409.77" r="2.35" fill="#174a7c" stroke="#11385d" stroke-width="0.6"/>
<text x="151.75" y="406.10" font-size="8.9" fill="#406487" textLength="16.29" lengthAdjust="spacingAndGlyphs">0.95</text>
<g stroke="#2f7fa1" stroke-width="1.25"><line x1="163.7" y1="427.30" x2="203.2" y2="427.30"/><line x1="163.7" y1="424.45" x2="163.7" y2="430.15"/><line x1="203.2" y1="424.45" x2="203.2" y2="430.15"/></g>
<circle cx="183.32" cy="427.30" r="2.35" fill="#29abe2" stroke="#1f80aa" stroke-width="0.6"/>
<text x="185.75" y="436.90" font-size="8.9" fill="#4da8ce" textLength="16.29" lengthAdjust="spacingAndGlyphs">1.67</text>
<g stroke="#377d37" stroke-width="1.25"><line x1="154.8" y1="444.83" x2="178" y2="444.83"/><line x1="154.8" y1="441.98" x2="154.8" y2="447.68"/><line x1="178" y1="441.98" x2="178" y2="447.68"/></g>
<circle cx="166.62" cy="444.83" r="2.35" fill="#37a836" stroke="#297e28" stroke-width="0.6"/>
<text x="152.75" y="439.50" font-size="8.9" fill="#56a656" textLength="16.29" lengthAdjust="spacingAndGlyphs">0.88</text>
<g stroke="#502c60" stroke-width="1.25"><line x1="129.2" y1="462.36" x2="180.7" y2="462.36"/><line x1="129.2" y1="459.51" x2="129.2" y2="465.21"/><line x1="180.7" y1="459.51" x2="180.7" y2="465.21"/></g>
<circle cx="155.29" cy="462.36" r="2.35" fill="#5e2579" stroke="#461c5b" stroke-width="0.6"/>
<text x="133.46" y="460.90" font-size="8.9" fill="#724a85" textLength="16.29" lengthAdjust="spacingAndGlyphs">0.57</text>
<g stroke="#941b32" stroke-width="1.25"><line x1="151.9" y1="479.89" x2="191.9" y2="479.89"/><line x1="151.9" y1="477.04" x2="151.9" y2="482.74"/><line x1="191.9" y1="477.04" x2="191.9" y2="482.74"/></g>
<circle cx="171.96" cy="479.89" r="2.35" fill="#cc0a2f" stroke="#990823" stroke-width="0.6"/>
<text x="173.66" y="477.90" font-size="8.9" fill="#bf3751" textLength="16.29" lengthAdjust="spacingAndGlyphs">1.08</text>
<g stroke="#ac7015" stroke-width="1.25"><line x1="164.5" y1="497.42" x2="208.9" y2="497.42"/><line x1="164.5" y1="494.57" x2="164.5" y2="500.27"/><line x1="208.9" y1="494.57" x2="208.9" y2="500.27"/></g>
<circle cx="186.69" cy="497.42" r="2.35" fill="#f39200" stroke="#b66e00" stroke-width="0.6"/>
<text x="189.66" y="495.40" font-size="8.9" fill="#da9630" textLength="16.29" lengthAdjust="spacingAndGlyphs">1.90</text>
<g stroke="#244362" stroke-width="1.25"><line x1="278.6" y1="409.77" x2="305.8" y2="409.77"/><line x1="278.6" y1="406.92" x2="278.6" y2="412.62"/><line x1="305.8" y1="406.92" x2="305.8" y2="412.62"/></g>
<circle cx="292.43" cy="409.77" r="2.35" fill="#174a7c" stroke="#11385d" stroke-width="0.6"/>
<text x="282.16" y="405.60" font-size="8.9" fill="#406487" textLength="16.29" lengthAdjust="spacingAndGlyphs">0.54</text>
<text x="298.70" y="402.20" font-size="6" fill="#406487" stroke="#406487" stroke-width="0.1">c</text>
<g stroke="#2f7fa1" stroke-width="1.25"><line x1="281.2" y1="427.30" x2="305.8" y2="427.30"/><line x1="281.2" y1="424.45" x2="281.2" y2="430.15"/><line x1="305.8" y1="424.45" x2="305.8" y2="430.15"/></g>
<circle cx="293.38" cy="427.30" r="2.35" fill="#29abe2" stroke="#1f80aa" stroke-width="0.6"/>
<text x="283.95" y="423.20" font-size="8.9" fill="#4da8ce" textLength="16.29" lengthAdjust="spacingAndGlyphs">0.56</text>
<text x="300.50" y="419.80" font-size="6" fill="#4da8ce" stroke="#4da8ce" stroke-width="0.1">c</text>
<g stroke="#377d37" stroke-width="1.25"><line x1="285" y1="444.83" x2="303.2" y2="444.83"/><line x1="285" y1="441.98" x2="285" y2="447.68"/><line x1="303.2" y1="441.98" x2="303.2" y2="447.68"/></g>
<circle cx="294.29" cy="444.83" r="2.35" fill="#37a836" stroke="#297e28" stroke-width="0.6"/>
<text x="284.56" y="439.80" font-size="8.9" fill="#56a656" textLength="16.29" lengthAdjust="spacingAndGlyphs">0.58</text>
<text x="301.10" y="436.40" font-size="6" fill="#56a656" stroke="#56a656" stroke-width="0.1">c</text>
<g stroke="#502c60" stroke-width="1.25"><line x1="289.8" y1="462.36" x2="325.3" y2="462.36"/><line x1="289.8" y1="459.51" x2="289.8" y2="465.21"/><line x1="325.3" y1="459.51" x2="325.3" y2="465.21"/></g>
<circle cx="307.71" cy="462.36" r="2.35" fill="#5e2579" stroke="#461c5b" stroke-width="0.6"/>
<text x="308.56" y="459.60" font-size="8.9" fill="#724a85" textLength="16.29" lengthAdjust="spacingAndGlyphs">0.97</text>
<g stroke="#941b32" stroke-width="1.25"><line x1="291.9" y1="479.89" x2="322.7" y2="479.89"/><line x1="291.9" y1="477.04" x2="291.9" y2="482.74"/><line x1="322.7" y1="477.04" x2="322.7" y2="482.74"/></g>
<circle cx="306.89" cy="479.89" r="2.35" fill="#cc0a2f" stroke="#990823" stroke-width="0.6"/>
<text x="291.25" y="476.90" font-size="8.9" fill="#bf3751" textLength="16.29" lengthAdjust="spacingAndGlyphs">0.94</text>
<g stroke="#ac7015" stroke-width="1.25"><line x1="293.3" y1="497.42" x2="322.7" y2="497.42"/><line x1="293.3" y1="494.57" x2="293.3" y2="500.27"/><line x1="322.7" y1="494.57" x2="322.7" y2="500.27"/></g>
<circle cx="307.71" cy="497.42" r="2.35" fill="#f39200" stroke="#b66e00" stroke-width="0.6"/>
<text x="291.45" y="493.80" font-size="8.9" fill="#da9630" textLength="16.29" lengthAdjust="spacingAndGlyphs">0.97</text>
<g stroke="#244362" stroke-width="1.25"><line x1="411.2" y1="409.77" x2="473.8" y2="409.77"/><line x1="411.2" y1="406.92" x2="411.2" y2="412.62"/><line x1="473.8" y1="406.92" x2="473.8" y2="412.62"/></g>
<circle cx="442.49" cy="409.77" r="2.35" fill="#174a7c" stroke="#11385d" stroke-width="0.6"/>
<text x="449.25" y="408.20" font-size="8.9" fill="#406487" textLength="16.29" lengthAdjust="spacingAndGlyphs">0.83</text>
<g stroke="#2f7fa1" stroke-width="1.25"><line x1="420.3" y1="427.30" x2="471.1" y2="427.30"/><line x1="420.3" y1="424.45" x2="420.3" y2="430.15"/><line x1="471.1" y1="424.45" x2="471.1" y2="430.15"/></g>
<circle cx="445.74" cy="427.30" r="2.35" fill="#29abe2" stroke="#1f80aa" stroke-width="0.6"/>
<text x="450.06" y="425.60" font-size="8.9" fill="#4da8ce" textLength="16.29" lengthAdjust="spacingAndGlyphs">0.94</text>
<g stroke="#377d37" stroke-width="1.25"><line x1="432.6" y1="444.83" x2="467.9" y2="444.83"/><line x1="432.6" y1="441.98" x2="432.6" y2="447.68"/><line x1="467.9" y1="441.98" x2="467.9" y2="447.68"/></g>
<circle cx="450.31" cy="444.83" r="2.35" fill="#37a836" stroke="#297e28" stroke-width="0.6"/>
<text x="451.36" y="441.10" font-size="8.9" fill="#56a656" textLength="16.29" lengthAdjust="spacingAndGlyphs">1.12</text>
<g stroke="#502c60" stroke-width="1.25"><line x1="403.7" y1="462.36" x2="483.9" y2="462.36"/><line x1="403.7" y1="459.51" x2="403.7" y2="465.21"/><line x1="483.9" y1="459.51" x2="483.9" y2="465.21"/></g>
<circle cx="444.02" cy="462.36" r="2.35" fill="#5e2579" stroke="#461c5b" stroke-width="0.6"/>
<text x="455.45" y="461.20" font-size="8.9" fill="#724a85" textLength="16.29" lengthAdjust="spacingAndGlyphs">0.88</text>
<g stroke="#941b32" stroke-width="1.25"><line x1="403.7" y1="479.89" x2="474.6" y2="479.89"/><line x1="403.7" y1="477.04" x2="403.7" y2="482.74"/><line x1="474.6" y1="477.04" x2="474.6" y2="482.74"/></g>
<circle cx="439.50" cy="479.89" r="2.35" fill="#cc0a2f" stroke="#990823" stroke-width="0.6"/>
<text x="448.75" y="478.30" font-size="8.9" fill="#bf3751" textLength="16.29" lengthAdjust="spacingAndGlyphs">0.74</text>
<g stroke="#ac7015" stroke-width="1.25"><line x1="413.1" y1="497.42" x2="471.9" y2="497.42"/><line x1="413.1" y1="494.57" x2="413.1" y2="500.27"/><line x1="471.9" y1="494.57" x2="471.9" y2="500.27"/></g>
<circle cx="442.80" cy="497.42" r="2.35" fill="#f39200" stroke="#b66e00" stroke-width="0.6"/>
<text x="449.25" y="495.10" font-size="8.9" fill="#da9630" textLength="16.29" lengthAdjust="spacingAndGlyphs">0.84</text>
<g stroke="#244362" stroke-width="1.25"><line x1="129.2" y1="560.89" x2="184.6" y2="560.89"/><line x1="129.2" y1="558.04" x2="129.2" y2="563.74"/><line x1="184.6" y1="558.04" x2="184.6" y2="563.74"/></g>
<circle cx="157.06" cy="560.89" r="2.35" fill="#174a7c" stroke="#11385d" stroke-width="0.6"/>
<text x="135.25" y="558.90" font-size="8.9" fill="#406487" textLength="16.29" lengthAdjust="spacingAndGlyphs">0.61</text>
<g stroke="#2f7fa1" stroke-width="1.25"><line x1="154" y1="578.42" x2="194.5" y2="578.42"/><line x1="154" y1="575.57" x2="154" y2="581.27"/><line x1="194.5" y1="575.57" x2="194.5" y2="581.27"/></g>
<circle cx="174.49" cy="578.42" r="2.35" fill="#29abe2" stroke="#1f80aa" stroke-width="0.6"/>
<text x="177.06" y="575.90" font-size="8.9" fill="#4da8ce" textLength="16.29" lengthAdjust="spacingAndGlyphs">1.19</text>
<g stroke="#377d37" stroke-width="1.25"><line x1="130.5" y1="595.95" x2="172.3" y2="595.95"/><line x1="130.5" y1="593.10" x2="130.5" y2="598.80"/><line x1="172.3" y1="593.10" x2="172.3" y2="598.80"/></g>
<circle cx="151.35" cy="595.95" r="2.35" fill="#37a836" stroke="#297e28" stroke-width="0.6"/>
<text x="132.66" y="593.70" font-size="8.9" fill="#56a656" textLength="16.29" lengthAdjust="spacingAndGlyphs">0.49</text>
<g stroke="#502c60" stroke-width="1.25"><line x1="118.7" y1="613.48" x2="185.9" y2="613.48"/><line x1="118.7" y1="610.63" x2="118.7" y2="616.33"/><line x1="185.9" y1="610.63" x2="185.9" y2="616.33"/></g>
<circle cx="152.39" cy="613.48" r="2.35" fill="#5e2579" stroke="#461c5b" stroke-width="0.6"/>
<text x="127.36" y="611.90" font-size="8.9" fill="#724a85" textLength="16.29" lengthAdjust="spacingAndGlyphs">0.51</text>
<g stroke="#941b32" stroke-width="1.25"><line x1="141.7" y1="631.01" x2="208.9" y2="631.01"/><line x1="141.7" y1="628.16" x2="141.7" y2="633.86"/><line x1="208.9" y1="628.16" x2="208.9" y2="633.86"/></g>
<circle cx="175.35" cy="631.01" r="2.35" fill="#cc0a2f" stroke="#990823" stroke-width="0.6"/>
<text x="184.96" y="628.90" font-size="8.9" fill="#bf3751" textLength="16.29" lengthAdjust="spacingAndGlyphs">1.23</text>
<g stroke="#ac7015" stroke-width="1.25"><line x1="165" y1="648.54" x2="221.2" y2="648.54"/><line x1="165" y1="645.69" x2="165" y2="651.39"/><line x1="221.2" y1="645.69" x2="221.2" y2="651.39"/></g>
<circle cx="193.00" cy="648.54" r="2.35" fill="#f39200" stroke="#b66e00" stroke-width="0.6"/>
<text x="199.86" y="646.90" font-size="8.9" fill="#da9630" textLength="16.29" lengthAdjust="spacingAndGlyphs">2.42</text>
<g stroke="#244362" stroke-width="1.25"><line x1="278.3" y1="560.89" x2="310.6" y2="560.89"/><line x1="278.3" y1="558.04" x2="278.3" y2="563.74"/><line x1="310.6" y1="558.04" x2="310.6" y2="563.74"/></g>
<circle cx="294.29" cy="560.89" r="2.35" fill="#174a7c" stroke="#11385d" stroke-width="0.6"/>
<text x="277.86" y="556.00" font-size="8.9" fill="#406487" textLength="16.29" lengthAdjust="spacingAndGlyphs">0.58</text>
<g stroke="#2f7fa1" stroke-width="1.25"><line x1="278.6" y1="578.42" x2="309" y2="578.42"/><line x1="278.6" y1="575.57" x2="278.6" y2="581.27"/><line x1="309" y1="575.57" x2="309" y2="581.27"/></g>
<circle cx="293.84" cy="578.42" r="2.35" fill="#29abe2" stroke="#1f80aa" stroke-width="0.6"/>
<text x="279.95" y="574.20" font-size="8.9" fill="#4da8ce" textLength="16.29" lengthAdjust="spacingAndGlyphs">0.57</text>
<g stroke="#377d37" stroke-width="1.25"><line x1="275.9" y1="595.95" x2="299.7" y2="595.95"/><line x1="275.9" y1="593.10" x2="275.9" y2="598.80"/><line x1="299.7" y1="593.10" x2="299.7" y2="598.80"/></g>
<circle cx="287.68" cy="595.95" r="2.35" fill="#37a836" stroke="#297e28" stroke-width="0.6"/>
<text x="278.16" y="591.30" font-size="8.9" fill="#56a656" textLength="16.29" lengthAdjust="spacingAndGlyphs">0.45</text>
<text x="294.70" y="587.90" font-size="6" fill="#56a656" stroke="#56a656" stroke-width="0.1">c</text>
<g stroke="#502c60" stroke-width="1.25"><line x1="287.1" y1="613.48" x2="331.2" y2="613.48"/><line x1="287.1" y1="610.63" x2="287.1" y2="616.33"/><line x1="331.2" y1="610.63" x2="331.2" y2="616.33"/></g>
<circle cx="309.02" cy="613.48" r="2.35" fill="#5e2579" stroke="#461c5b" stroke-width="0.6"/>
<text x="311.25" y="612.20" font-size="8.9" fill="#724a85" textLength="16.29" lengthAdjust="spacingAndGlyphs">1.02</text>
<g stroke="#941b32" stroke-width="1.25"><line x1="295.7" y1="631.01" x2="335.2" y2="631.01"/><line x1="295.7" y1="628.16" x2="295.7" y2="633.86"/><line x1="335.2" y1="628.16" x2="335.2" y2="633.86"/></g>
<circle cx="315.34" cy="631.01" r="2.35" fill="#cc0a2f" stroke="#990823" stroke-width="0.6"/>
<text x="318.25" y="629.30" font-size="8.9" fill="#bf3751" textLength="16.29" lengthAdjust="spacingAndGlyphs">1.30</text>
<g stroke="#ac7015" stroke-width="1.25"><line x1="295.7" y1="648.54" x2="333.9" y2="648.54"/><line x1="295.7" y1="645.69" x2="295.7" y2="651.39"/><line x1="333.9" y1="645.69" x2="333.9" y2="651.39"/></g>
<circle cx="314.94" cy="648.54" r="2.35" fill="#f39200" stroke="#b66e00" stroke-width="0.6"/>
<text x="317.95" y="646.70" font-size="8.9" fill="#da9630" textLength="16.29" lengthAdjust="spacingAndGlyphs">1.28</text>
<g stroke="#244362" stroke-width="1.25"><line x1="420.6" y1="560.89" x2="456.4" y2="560.89"/><line x1="420.6" y1="558.04" x2="420.6" y2="563.74"/><line x1="456.4" y1="558.04" x2="456.4" y2="563.74"/></g>
<circle cx="438.42" cy="560.89" r="2.35" fill="#174a7c" stroke="#11385d" stroke-width="0.6"/>
<text x="420.66" y="558.20" font-size="8.9" fill="#406487" textLength="16.29" lengthAdjust="spacingAndGlyphs">0.71</text>
<g stroke="#2f7fa1" stroke-width="1.25"><line x1="447.3" y1="578.42" x2="476.7" y2="578.42"/><line x1="447.3" y1="575.57" x2="447.3" y2="581.27"/><line x1="476.7" y1="575.57" x2="476.7" y2="581.27"/></g>
<circle cx="462.24" cy="578.42" r="2.35" fill="#29abe2" stroke="#1f80aa" stroke-width="0.6"/>
<text x="453.25" y="574.20" font-size="8.9" fill="#4da8ce" textLength="16.29" lengthAdjust="spacingAndGlyphs">1.77</text>
<text x="469.80" y="570.80" font-size="6" fill="#4da8ce" stroke="#4da8ce" stroke-width="0.1">c</text>
<g stroke="#377d37" stroke-width="1.25"><line x1="440.4" y1="595.95" x2="462.5" y2="595.95"/><line x1="440.4" y1="593.10" x2="440.4" y2="598.80"/><line x1="462.5" y1="593.10" x2="462.5" y2="598.80"/></g>
<circle cx="451.44" cy="595.95" r="2.35" fill="#37a836" stroke="#297e28" stroke-width="0.6"/>
<text x="449.25" y="591.30" font-size="8.9" fill="#56a656" textLength="16.29" lengthAdjust="spacingAndGlyphs">1.17</text>
<g stroke="#502c60" stroke-width="1.25"><line x1="401.1" y1="613.48" x2="446" y2="613.48"/><line x1="401.1" y1="610.63" x2="401.1" y2="616.33"/><line x1="446" y1="610.63" x2="446" y2="616.33"/></g>
<circle cx="423.45" cy="613.48" r="2.35" fill="#5e2579" stroke="#461c5b" stroke-width="0.6"/>
<text x="402.45" y="610.60" font-size="8.9" fill="#724a85" textLength="16.29" lengthAdjust="spacingAndGlyphs">0.40</text>
<text x="419.00" y="607.20" font-size="6" fill="#724a85" stroke="#724a85" stroke-width="0.1">c</text>
<g stroke="#941b32" stroke-width="1.25"><line x1="413.9" y1="631.01" x2="454.5" y2="631.01"/><line x1="413.9" y1="628.16" x2="413.9" y2="633.86"/><line x1="454.5" y1="628.16" x2="454.5" y2="633.86"/></g>
<circle cx="434.46" cy="631.01" r="2.35" fill="#cc0a2f" stroke="#990823" stroke-width="0.6"/>
<text x="415.86" y="628.20" font-size="8.9" fill="#bf3751" textLength="16.29" lengthAdjust="spacingAndGlyphs">0.61</text>
<g stroke="#ac7015" stroke-width="1.25"><line x1="441.7" y1="648.54" x2="475.4" y2="648.54"/><line x1="441.7" y1="645.69" x2="441.7" y2="651.39"/><line x1="475.4" y1="645.69" x2="475.4" y2="651.39"/></g>
<circle cx="458.27" cy="648.54" r="2.35" fill="#f39200" stroke="#b66e00" stroke-width="0.6"/>
<text x="458.06" y="645.30" font-size="8.9" fill="#da9630" textLength="16.29" lengthAdjust="spacingAndGlyphs">1.52</text>
<circle cx="44.4" cy="342.0" r="3.8" fill="#174a7c"/>
<text x="51.25" y="344.60" font-size="7" fill="#333" stroke="#333" stroke-width="0.1" textLength="47.90" lengthAdjust="spacingAndGlyphs">NHB vs. NHW</text>
<circle cx="118.5" cy="342.0" r="3.8" fill="#29abe2"/>
<text x="125.05" y="344.60" font-size="7" fill="#333" stroke="#333" stroke-width="0.1" textLength="49.30" lengthAdjust="spacingAndGlyphs">NHA vs. NHW</text>
<circle cx="193.1" cy="342.0" r="3.8" fill="#37a836"/>
<text x="199.25" y="344.60" font-size="7" fill="#333" stroke="#333" stroke-width="0.1" textLength="61.50" lengthAdjust="spacingAndGlyphs">Hispanic vs. NHW</text>
<circle cx="279.6" cy="342.0" r="3.8" fill="#5e2579"/>
<text x="286.15" y="344.60" font-size="7" fill="#333" stroke="#333" stroke-width="0.1" textLength="46.90" lengthAdjust="spacingAndGlyphs">NHB vs. NHA</text>
<circle cx="351.5" cy="342.0" r="3.8" fill="#cc0a2f"/>
<text x="358.35" y="344.60" font-size="7" fill="#333" stroke="#333" stroke-width="0.1" textLength="58.30" lengthAdjust="spacingAndGlyphs">NHB vs. Hispanic</text>
<circle cx="436.2" cy="342.0" r="3.8" fill="#f39200"/>
<text x="442.35" y="344.60" font-size="7" fill="#333" stroke="#333" stroke-width="0.1" textLength="59.20" lengthAdjust="spacingAndGlyphs">NHA vs. Hispanic</text>
<circle cx="44.4" cy="697.0" r="3.8" fill="#174a7c"/>
<text x="51.25" y="699.60" font-size="7" fill="#333" stroke="#333" stroke-width="0.1" textLength="47.90" lengthAdjust="spacingAndGlyphs">NHB vs. NHW</text>
<circle cx="118.5" cy="697.0" r="3.8" fill="#29abe2"/>
<text x="125.05" y="699.60" font-size="7" fill="#333" stroke="#333" stroke-width="0.1" textLength="49.30" lengthAdjust="spacingAndGlyphs">NHA vs. NHW</text>
<circle cx="193.1" cy="697.0" r="3.8" fill="#37a836"/>
<text x="199.25" y="699.60" font-size="7" fill="#333" stroke="#333" stroke-width="0.1" textLength="61.50" lengthAdjust="spacingAndGlyphs">Hispanic vs. NHW</text>
<circle cx="279.6" cy="697.0" r="3.8" fill="#5e2579"/>
<text x="286.15" y="699.60" font-size="7" fill="#333" stroke="#333" stroke-width="0.1" textLength="46.90" lengthAdjust="spacingAndGlyphs">NHB vs. NHA</text>
<circle cx="351.5" cy="697.0" r="3.8" fill="#cc0a2f"/>
<text x="358.35" y="699.60" font-size="7" fill="#333" stroke="#333" stroke-width="0.1" textLength="58.30" lengthAdjust="spacingAndGlyphs">NHB vs. Hispanic</text>
<circle cx="436.2" cy="697.0" r="3.8" fill="#f39200"/>
<text x="442.35" y="699.60" font-size="7" fill="#333" stroke="#333" stroke-width="0.1" textLength="59.20" lengthAdjust="spacingAndGlyphs">NHA vs. Hispanic</text>
<rect x="0.6" y="0.6" width="518.8" height="706.8" fill="none" stroke="#444" stroke-width="1.3"/>
</svg>
</body></html>
